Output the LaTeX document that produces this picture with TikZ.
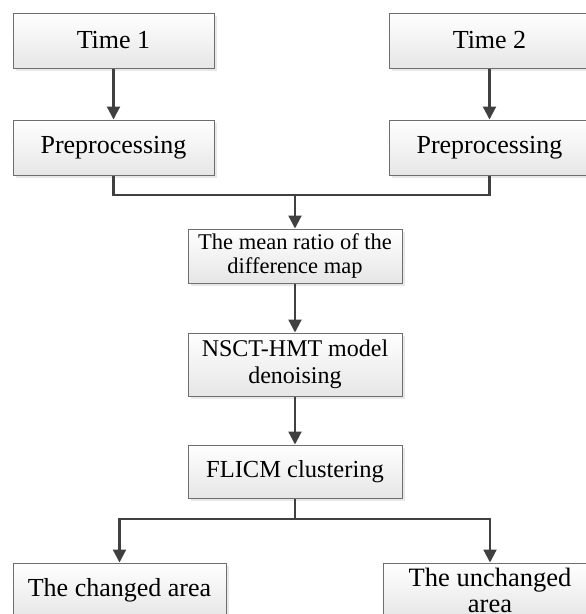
\documentclass[tikz,border=0pt]{standalone}
\usepackage{fontspec}
\setmainfont{Liberation Serif}
\usetikzlibrary{arrows.meta,shadows}
\definecolor{lineclr}{HTML}{404040}
\definecolor{edgeclr}{HTML}{6E6E6E}
\definecolor{shadeclr}{HTML}{E6E6E6}
\begin{document}
\begin{tikzpicture}[x=1pt,y=-1pt,
  box/.style={draw=edgeclr, line width=1pt, top color=white, bottom color=shadeclr,
    drop shadow={shadow xshift=2.5pt, shadow yshift=-2.5pt, fill=black!9, opacity=1},
    inner sep=0pt, align=center, anchor=center},
  bigtext/.style={font=\fontsize{26}{24}\selectfont},
  midtext/.style={font=\fontsize{22.5}{24}\selectfont},
  link/.style={draw=lineclr, line width=2.2pt},
  arr/.style={link, -{Triangle[length=13pt,width=13pt]}}]
\useasboundingbox (0,0) rectangle (586,614);
\clip (0,0) rectangle (586,614);
\node[box,bigtext,minimum width=201pt,minimum height=55pt] (t1) at (113.5,40.5) {Time 1};
\node[box,bigtext,minimum width=201pt,minimum height=55pt] (t2) at (489.5,40.5) {Time 2};
\node[box,bigtext,minimum width=201pt,minimum height=55pt] (p1) at (113.5,147.5) {Preprocessing};
\node[box,bigtext,minimum width=201pt,minimum height=55pt] (p2) at (489.5,147.5) {Preprocessing};
\node[box,midtext,minimum width=214pt,minimum height=54pt] (mean) at (295,256) {The mean ratio of the\\difference map};
\node[box,font=\fontsize{24}{27}\selectfont,minimum width=214pt,minimum height=63pt] (nsct) at (295,364.5) {NSCT-HMT model\\denoising};
\node[box,font=\fontsize{24.5}{27}\selectfont,minimum width=214pt,minimum height=53pt] (flicm) at (295,471.5) {FLICM clustering};
\node[box,bigtext,minimum width=213pt,minimum height=55pt] (c1) at (119.5,590.5) {The changed area};
\node[box,font=\fontsize{26.5}{26}\selectfont,minimum width=214pt,minimum height=55pt] (c2) at (490,590.5) {The unchanged\\area};
\coordinate (j1) at (295,195);
\coordinate (j2) at (295,519);
\draw[arr] (t1) -- (p1);
\draw[arr] (t2) -- (p2);
\draw[link] (p1.south) |- (j1);
\draw[link] (p2.south) |- (j1);
\draw[arr] (j1) -- (mean.north);
\draw[arr] (mean) -- (nsct);
\draw[arr] (nsct) -- (flicm);
\draw[link] (flicm.south) -- (j2);
\draw[arr] (j2) -| (c1.north);
\draw[arr] (j2) -| (c2.north);
\end{tikzpicture}
\end{document}
